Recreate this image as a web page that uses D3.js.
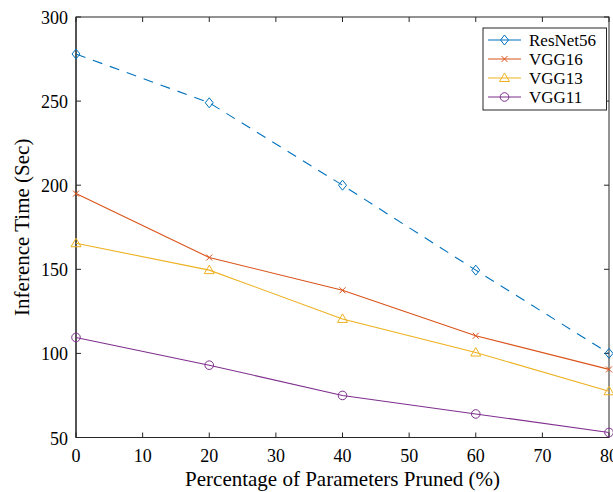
<!DOCTYPE html>
<html>
<head>
<meta charset="utf-8">
<script src="https://cdn.jsdelivr.net/npm/d3@7"></script>
<style>
  body { margin: 0; background: #fff; }
  text { font-family: "Liberation Serif", "Times New Roman", serif; }
</style>
</head>
<body>
<svg id="chart" width="613" height="492"></svg>
<script>
// pruning percentages on x
const pruned = [0, 20, 40, 60, 80];

// inference time in seconds
const resnet56 = [278, 249, 200, 149.5, 100];
const vgg16 = [195, 157, 137.5, 110.5, 90.5];
const vgg13 = [165.5, 149.5, 120.5, 100.5, 77.5];
const vgg11 = [109.5, 93, 75, 64, 53];

const xTicks = [0, 10, 20, 30, 40, 50, 60, 70, 80];
const yTicks = [50, 100, 150, 200, 250, 300];

const series = [
  { name: "ResNet56", values: resnet56, color: "#0072BD", marker: "diamond", dash: "10,8" },
  { name: "VGG16", values: vgg16, color: "#D95319", marker: "cross", dash: null },
  { name: "VGG13", values: vgg13, color: "#EDB120", marker: "triangle", dash: null },
  { name: "VGG11", values: vgg11, color: "#7E2F8E", marker: "circle", dash: null }
];

const svg = d3.select("#chart");
const plotL = 76, plotR = 609, plotT = 17, plotB = 437.5;

const x = d3.scaleLinear().domain([0, 80]).range([plotL, plotR]);
const y = d3.scaleLinear().domain([50, 300]).range([plotB, plotT]);

// box and ticks
const tickLen = 5;
const axisColor = "#262626";

svg.append("rect")
  .attr("x", plotL).attr("y", plotT)
  .attr("width", plotR - plotL).attr("height", plotB - plotT)
  .attr("fill", "none").attr("stroke", axisColor).attr("stroke-width", 1);

// left axis looks heavier in the original
svg.append("line")
  .attr("x1", plotL).attr("x2", plotL).attr("y1", plotT).attr("y2", plotB)
  .attr("stroke", "#555").attr("stroke-width", 2);

const gTicks = svg.append("g").attr("stroke", axisColor).attr("stroke-width", 1);
xTicks.forEach(t => {
  gTicks.append("line").attr("x1", x(t)).attr("x2", x(t)).attr("y1", plotB).attr("y2", plotB - tickLen);
  gTicks.append("line").attr("x1", x(t)).attr("x2", x(t)).attr("y1", plotT).attr("y2", plotT + tickLen);
});
yTicks.forEach(t => {
  gTicks.append("line").attr("x1", plotL).attr("x2", plotL + tickLen).attr("y1", y(t)).attr("y2", y(t));
  gTicks.append("line").attr("x1", plotR).attr("x2", plotR - tickLen).attr("y1", y(t)).attr("y2", y(t));
});

// tick labels
svg.append("g").selectAll("text").data(xTicks).join("text")
  .attr("x", d => x(d)).attr("y", plotB + 24)
  .attr("text-anchor", "middle").attr("font-size", 18).attr("fill", "#000")
  .text(d => d);

svg.append("g").selectAll("text").data(yTicks).join("text")
  .attr("x", plotL - 8).attr("y", d => y(d) + 7)
  .attr("text-anchor", "end").attr("font-size", 18).attr("fill", "#000")
  .text(d => d);

// axis titles
svg.append("text")
  .attr("x", (plotL + plotR) / 2).attr("y", 486)
  .attr("text-anchor", "middle").attr("font-size", 21)
  .text("Percentage of Parameters Pruned (%)");

svg.append("text")
  .attr("transform", `translate(29,${(plotT + plotB) / 2}) rotate(-90)`)
  .attr("text-anchor", "middle").attr("font-size", 21)
  .text("Inference Time (Sec)");

function drawMarker(g, type, cx, cy, color) {
  if (type === "diamond") {
    g.append("path").attr("d", `M${cx},${cy - 5}L${cx + 4},${cy}L${cx},${cy + 5}L${cx - 4},${cy}Z`)
      .attr("fill", "none").attr("stroke", color).attr("stroke-width", 1);
  } else if (type === "cross") {
    g.append("path").attr("d", `M${cx - 3},${cy - 3}L${cx + 3},${cy + 3}M${cx - 3},${cy + 3}L${cx + 3},${cy - 3}`)
      .attr("stroke", color).attr("stroke-width", 1);
  } else if (type === "triangle") {
    g.append("path").attr("d", `M${cx},${cy - 5}L${cx + 5},${cy + 3.5}L${cx - 5},${cy + 3.5}Z`)
      .attr("fill", "none").attr("stroke", color).attr("stroke-width", 1);
  } else {
    g.append("circle").attr("cx", cx).attr("cy", cy).attr("r", 4.3)
      .attr("fill", "none").attr("stroke", color).attr("stroke-width", 1);
  }
}

const line = d3.line().x((d, i) => x(pruned[i])).y(d => y(d));

series.forEach(s => {
  const g = svg.append("g");
  g.append("path")
    .attr("d", line(s.values))
    .attr("fill", "none").attr("stroke", s.color).attr("stroke-width", 1.1)
    .attr("stroke-dasharray", s.dash);
  s.values.forEach((v, i) => drawMarker(g, s.marker, x(pruned[i]), y(v), s.color));
});

// legend
const lg = svg.append("g");
lg.append("rect").attr("x", 483).attr("y", 28).attr("width", 123.5).attr("height", 82)
  .attr("fill", "#fff").attr("stroke", axisColor).attr("stroke-width", 1);
series.forEach((s, i) => {
  const ly = 40 + i * 19;
  lg.append("line").attr("x1", 488).attr("x2", 521).attr("y1", ly).attr("y2", ly)
    .attr("stroke", s.color).attr("stroke-width", 1.1);
  drawMarker(lg, s.marker, 504.5, ly, s.color);
  lg.append("text").attr("x", 529).attr("y", ly + 5.5).attr("font-size", 17).text(s.name);
});
</script>
</body>
</html>
